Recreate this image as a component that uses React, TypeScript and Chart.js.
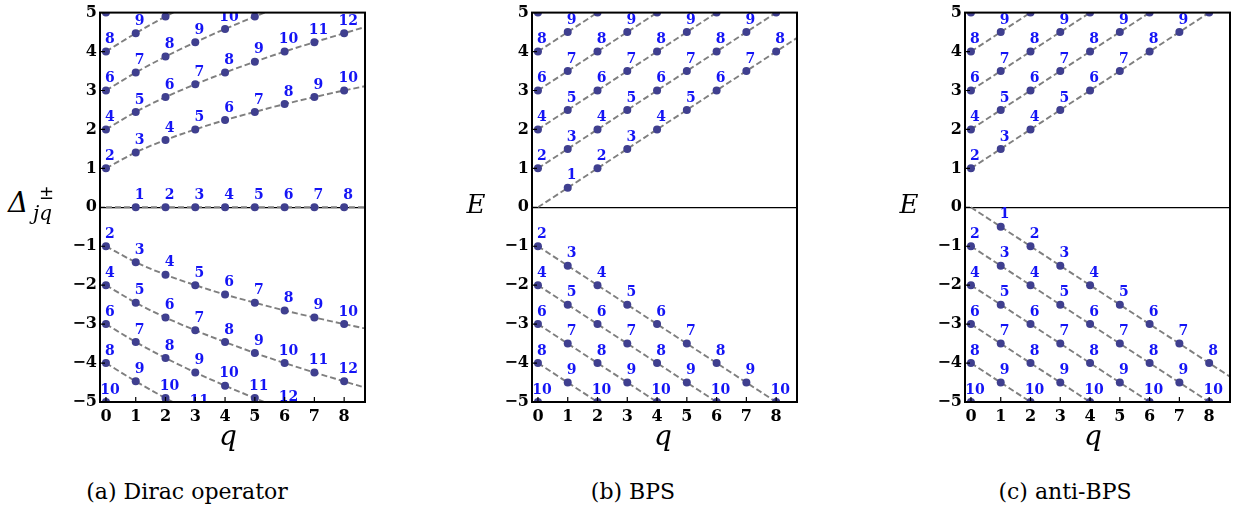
import React, { useEffect, useRef } from "react";
import { Chart, registerables } from "chart.js";
Chart.register(...registerables);

// ---------- data ----------
const qPoints = [0, 1, 2, 3, 4, 5, 6, 7, 8];
const qEdge = 8.7;
const xTickValues = [0, 1, 2, 3, 4, 5, 6, 7, 8];
const yTickValues = [-5, -4, -3, -2, -1, 0, 1, 2, 3, 4, 5];

// (a) Dirac operator: values at q = 0..8, then value at right edge
const diracZero = [0, 0, 0, 0, 0, 0, 0, 0, 0, 0];
const diracZeroLabels = [null, 1, 2, 3, 4, 5, 6, 7, 8];
const diracPos1 = [1, 1.41, 1.73, 2, 2.24, 2.45, 2.65, 2.83, 3, 3.11];
const diracPos2 = [2, 2.45, 2.83, 3.16, 3.46, 3.74, 4, 4.24, 4.47, 4.63];
const diracPos3 = [3, 3.46, 3.87, 4.24, 4.58, 4.9, 5.2, 5.48, 5.74, 5.92];
const diracPos4 = [4, 4.47, 4.9, 5.29, 5.66, 6, 6.32, 6.63, 6.93, 7.13];
const diracPos5 = [5, 5.48, 5.92, 6.32, 6.71, 7.07, 7.42, 7.75, 8.06, 8.28];
const diracNeg1 = [-1, -1.41, -1.73, -2, -2.24, -2.45, -2.65, -2.83, -3, -3.11];
const diracNeg2 = [-2, -2.45, -2.83, -3.16, -3.46, -3.74, -4, -4.24, -4.47, -4.63];
const diracNeg3 = [-3, -3.46, -3.87, -4.24, -4.58, -4.9, -5.2, -5.48, -5.74, -5.92];
const diracNeg4 = [-4, -4.47, -4.9, -5.29, -5.66, -6, -6.32, -6.63, -6.93, -7.13];
const diracNeg5 = [-5, -5.48, -5.92, -6.32, -6.71, -7.07, -7.42, -7.75, -8.06, -8.28];
const labels1 = [2, 3, 4, 5, 6, 7, 8, 9, 10];
const labels2 = [4, 5, 6, 7, 8, 9, 10, 11, 12];
const labels3 = [6, 7, 8, 9, 10, 11, 12, 13, 14];
const labels4 = [8, 9, 10, 11, 12, 13, 14, 15, 16];
const labels5 = [10, 11, 12, 13, 14, 15, 16, 17, 18];

// (b) BPS / (c) anti-BPS
const up0 = [0, 0.5, 1, 1.5, 2, 2.5, 3, 3.5, 4, 4.35];
const up1 = [1, 1.5, 2, 2.5, 3, 3.5, 4, 4.5, 5, 5.35];
const up2 = [2, 2.5, 3, 3.5, 4, 4.5, 5, 5.5, 6, 6.35];
const up3 = [3, 3.5, 4, 4.5, 5, 5.5, 6, 6.5, 7, 7.35];
const up4 = [4, 4.5, 5, 5.5, 6, 6.5, 7, 7.5, 8, 8.35];
const up5 = [5, 5.5, 6, 6.5, 7, 7.5, 8, 8.5, 9, 9.35];
const down0 = [0, -0.5, -1, -1.5, -2, -2.5, -3, -3.5, -4, -4.35];
const down1 = [-1, -1.5, -2, -2.5, -3, -3.5, -4, -4.5, -5, -5.35];
const down2 = [-2, -2.5, -3, -3.5, -4, -4.5, -5, -5.5, -6, -6.35];
const down3 = [-3, -3.5, -4, -4.5, -5, -5.5, -6, -6.5, -7, -7.35];
const down4 = [-4, -4.5, -5, -5.5, -6, -6.5, -7, -7.5, -8, -8.35];
const down5 = [-5, -5.5, -6, -6.5, -7, -7.5, -8, -8.5, -9, -9.35];
const labels0 = [null, 1, 2, 3, 4, 5, 6, 7, 8];

type Curve = { values: number[]; labels: (number | null)[] };

const panelA: Curve[] = [
  { values: diracZero, labels: diracZeroLabels },
  { values: diracPos1, labels: labels1 },
  { values: diracPos2, labels: labels2 },
  { values: diracPos3, labels: labels3 },
  { values: diracPos4, labels: labels4 },
  { values: diracPos5, labels: labels5 },
  { values: diracNeg1, labels: labels1 },
  { values: diracNeg2, labels: labels2 },
  { values: diracNeg3, labels: labels3 },
  { values: diracNeg4, labels: labels4 },
  { values: diracNeg5, labels: labels5 },
];
const panelB: Curve[] = [
  { values: up0, labels: labels0 },
  { values: up1, labels: labels1 },
  { values: up2, labels: labels2 },
  { values: up3, labels: labels3 },
  { values: up4, labels: labels4 },
  { values: up5, labels: labels5 },
  { values: down1, labels: labels1 },
  { values: down2, labels: labels2 },
  { values: down3, labels: labels3 },
  { values: down4, labels: labels4 },
  { values: down5, labels: labels5 },
];
const panelC: Curve[] = [
  { values: up1, labels: labels1 },
  { values: up2, labels: labels2 },
  { values: up3, labels: labels3 },
  { values: up4, labels: labels4 },
  { values: up5, labels: labels5 },
  { values: down0, labels: labels0 },
  { values: down1, labels: labels1 },
  { values: down2, labels: labels2 },
  { values: down3, labels: labels3 },
  { values: down4, labels: labels4 },
  { values: down5, labels: labels5 },
];

// ---------- styling ----------
const POINT_COLOR = "#3f3f8f";
const LABEL_COLOR = "#1414f5";
const DASH_COLOR = "#7f7f7f";
const SERIF = '"DejaVu Serif", "Liberation Serif", serif';
const CANVAS_W = 321;
const CANVAS_H = 432;
const Y_AXIS_W = 50;

const decorPlugin = {
  id: "decor",
  afterDatasetsDraw(chart: any) {
    const { ctx, chartArea: a, scales } = chart;
    // point labels
    ctx.save();
    ctx.beginPath();
    ctx.rect(a.left, a.top, a.right - a.left, a.bottom - a.top);
    ctx.clip();
    ctx.font = `bold 14px ${SERIF}`;
    ctx.fillStyle = LABEL_COLOR;
    ctx.textAlign = "center";
    ctx.textBaseline = "middle";
    chart.data.datasets.forEach((ds: any, i: number) => {
      const labs = ds.pointLabels;
      if (!labs) return;
      const meta = chart.getDatasetMeta(i);
      meta.data.forEach((el: any, j: number) => {
        const l = labs[j];
        if (l == null) return;
        ctx.fillText(String(l), el.x + 4, el.y - 12);
      });
    });
    ctx.restore();

    // inside ticks
    ctx.save();
    ctx.strokeStyle = "#000";
    ctx.lineWidth = 1.2;
    ctx.beginPath();
    yTickValues.forEach((v) => {
      const y = scales.y.getPixelForValue(v);
      ctx.moveTo(a.left, y);
      ctx.lineTo(a.left + 5, y);
    });
    xTickValues.forEach((v) => {
      const x = scales.x.getPixelForValue(v);
      ctx.moveTo(x, a.bottom);
      ctx.lineTo(x, a.bottom - 5);
    });
    ctx.stroke();
    // frame
    ctx.lineWidth = 2;
    ctx.strokeRect(a.left, a.top, a.right - a.left, a.bottom - a.top);
    ctx.restore();
  },
};

function buildDatasets(curves: Curve[]) {
  const ds: any[] = [];
  curves.forEach((c) => {
    const linePts = [...qPoints, qEdge].map((q, i) => ({ x: q, y: c.values[i] }));
    ds.push({
      data: linePts,
      showLine: true,
      borderColor: DASH_COLOR,
      borderWidth: 1.9,
      borderDash: [6, 3],
      pointRadius: 0,
      cubicInterpolationMode: "monotone",
      clip: 0,
      order: 2,
    });
    const pts: any[] = [];
    const labs: any[] = [];
    qPoints.forEach((q, i) => {
      if (c.labels[i] == null) return;
      pts.push({ x: q, y: c.values[i] });
      labs.push(c.labels[i]);
    });
    ds.push({
      data: pts,
      pointLabels: labs,
      showLine: false,
      pointRadius: 4,
      pointBackgroundColor: POINT_COLOR,
      pointBorderColor: POINT_COLOR,
      pointBorderWidth: 0,
      clip: 0,
      order: 1,
    });
  });
  return ds;
}

function Panel({ curves, left }: { curves: Curve[]; left: number }) {
  const ref = useRef<HTMLCanvasElement | null>(null);
  useEffect(() => {
    if (!ref.current) return;
    const chart = new Chart(ref.current, {
      type: "line",
      data: { datasets: buildDatasets(curves) },
      options: {
        animation: false,
        responsive: false,
        devicePixelRatio: 1,
        layout: { padding: { top: 6, right: 6, left: 0, bottom: 0 } },
        plugins: { legend: { display: false }, tooltip: { enabled: false } },
        scales: {
          x: {
            type: "linear",
            min: -0.2,
            max: qEdge,
            afterBuildTicks: (s: any) => {
              s.ticks = xTickValues.map((v) => ({ value: v }));
            },
            afterFit: (s: any) => {
              s.height = 30;
            },
            grid: { display: false, drawTicks: false },
            border: { display: false },
            ticks: {
              padding: 5,
              color: "#000",
              font: { family: SERIF, weight: "bold", size: 16 },
              callback: (v: any) => String(v),
            },
          },
          y: {
            type: "linear",
            min: -5,
            max: 5,
            afterBuildTicks: (s: any) => {
              s.ticks = yTickValues.map((v) => ({ value: v }));
            },
            afterFit: (s: any) => {
              s.width = Y_AXIS_W;
            },
            grid: {
              drawTicks: false,
              color: (c: any) => (c.tick && c.tick.value === 0 ? "#000" : "rgba(0,0,0,0)"),
              lineWidth: 1.3,
            },
            border: { display: false },
            ticks: {
              padding: 3,
              color: "#000",
              font: { family: SERIF, weight: "bold", size: 16 },
              callback: (v: any) => (v < 0 ? "\u2212" + Math.abs(v) : String(v)),
            },
          },
        },
      } as any,
      plugins: [decorPlugin],
    });
    return () => chart.destroy();
  }, [curves]);
  return (
    <canvas
      ref={ref}
      width={CANVAS_W}
      height={CANVAS_H}
      style={{ position: "absolute", left, top: 0, width: CANVAS_W, height: CANVAS_H }}
    />
  );
}

const abs = (s: React.CSSProperties): React.CSSProperties => ({
  position: "absolute",
  lineHeight: 1,
  whiteSpace: "pre",
  fontFamily: SERIF,
  color: "#000",
  ...s,
});

function Caption({ text, center }: { text: string; center: number }) {
  return (
    <div style={abs({ left: center - 150, width: 300, top: 481, fontSize: 22, textAlign: "center" })}>
      {text}
    </div>
  );
}

function QLabel({ center }: { center: number }) {
  return (
    <div style={abs({ left: center - 20, width: 40, top: 422, fontSize: 28, fontStyle: "italic", textAlign: "center" })}>
      q
    </div>
  );
}

export default function App() {
  return (
    <div style={{ position: "absolute", left: 0, top: 0, width: 1237, height: 512, background: "#fff", overflow: "hidden" }}>
      <Panel curves={panelA} left={50} />
      <Panel curves={panelB} left={482} />
      <Panel curves={panelC} left={915} />

      {/* y titles */}
      <div style={abs({ left: 8, top: 189, fontSize: 28, fontStyle: "italic" })}>Δ</div>
      <div style={abs({ left: 39, top: 184, fontSize: 18 })}>±</div>
      <div style={abs({ left: 33, top: 203, fontSize: 20, fontStyle: "italic" })}>jq</div>
      <div style={abs({ left: 476 - 20, width: 40, top: 191, fontSize: 26, fontStyle: "italic", textAlign: "center" })}>E</div>
      <div style={abs({ left: 909 - 20, width: 40, top: 191, fontSize: 26, fontStyle: "italic", textAlign: "center" })}>E</div>

      <QLabel center={228} />
      <QLabel center={663} />
      <QLabel center={1093} />

      <Caption text="(a) Dirac operator" center={187} />
      <Caption text="(b) BPS" center={633} />
      <Caption text="(c) anti-BPS" center={1065} />
    </div>
  );
}
